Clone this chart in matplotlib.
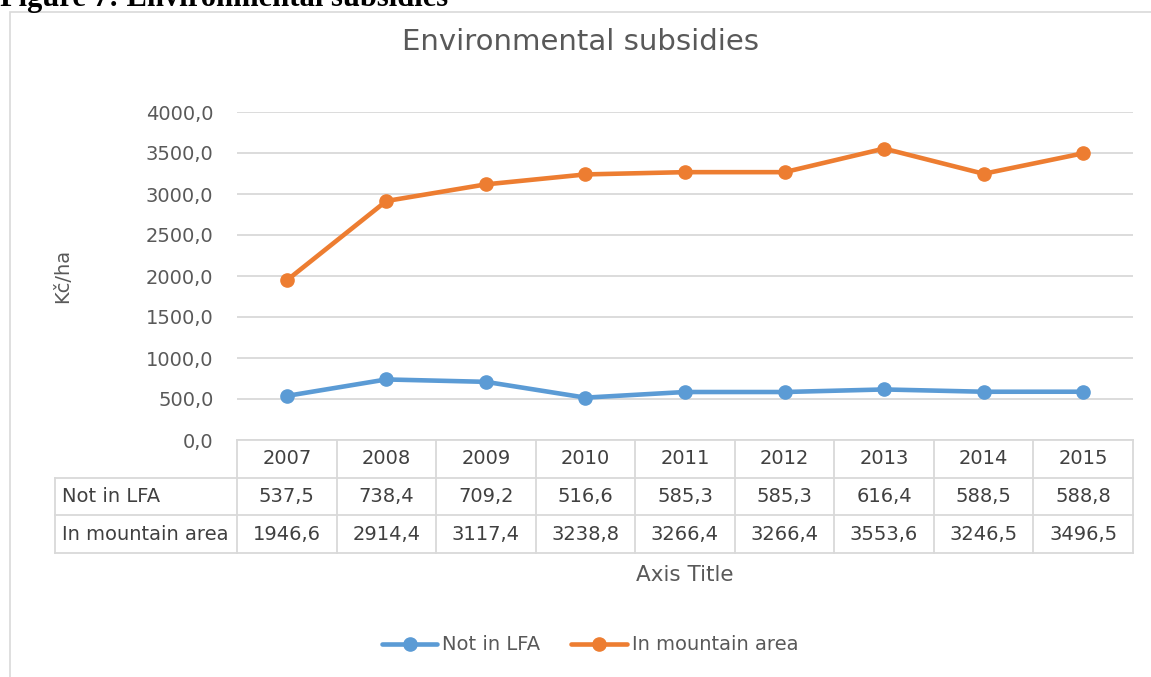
import matplotlib
matplotlib.use('Agg')
import matplotlib.pyplot as plt
from matplotlib.patches import Rectangle
from matplotlib.transforms import blended_transform_factory

plt.rcParams['font.family'] = ['DejaVu Sans']

years = ['2007', '2008', '2009', '2010', '2011', '2012', '2013', '2014', '2015']
not_lfa = [537.5, 738.4, 709.2, 516.6, 585.3, 585.3, 616.4, 588.5, 588.8]
mountain = [1946.6, 2914.4, 3117.4, 3238.8, 3266.4, 3266.4, 3553.6, 3246.5, 3496.5]
names = ['Not in LFA', 'In mountain area']
colors = ['#5B9BD5', '#ED7D31']

W, H = 1151, 677
fig = plt.figure(figsize=(W / 100, H / 100), dpi=100)

# chart frame + caption cut at the top
fig.patches.append(Rectangle((10 / W, -0.1), 1.2, 1.1 - 12 / H, transform=fig.transFigure,
                             fill=False, edgecolor='#d9d9d9', linewidth=1.2))
fig.text(0.0, 1 - 6 / H, 'Figure 7: Environmental subsidies', fontsize=22, weight='bold',
         family='Liberation Serif', va='baseline', ha='left', color='black')
fig.text(580 / W, 1 - 42 / H, 'Environmental subsidies', fontsize=21, color='#595959',
         ha='center', va='center')

ax = fig.add_axes([237 / W, 1 - 440 / H, 896 / W, 328 / H])
x = list(range(len(years)))
for vals, c, n in zip([not_lfa, mountain], colors, names):
    ax.plot(x, vals, color=c, lw=3.3, marker='o', ms=9.5, label=n, solid_capstyle='round')

ax.set_xlim(-0.5, len(years) - 0.5)
ax.set_ylim(0, 4000)
ax.set_yticks(range(0, 4001, 500))
ax.set_yticklabels([f'{v:.1f}'.replace('.', ',') for v in range(0, 4001, 500)])
ax.grid(axis='y', color='#d9d9d9', lw=1.3)
ax.set_axisbelow(True)
for s in ax.spines.values():
    s.set_visible(False)
ax.tick_params(axis='y', length=0, labelsize=14, labelcolor='#595959', pad=17)
ax.set_xticks([])
ax.set_ylabel('Kč/ha', fontsize=14, color='#595959')
ax.yaxis.set_label_coords(-165 / 896, 0.5)

# data table under the plot: x in data units, y in axes units
tr = blended_transform_factory(ax.transData, ax.transAxes)
col_w = 896 / len(years)
lab_left = -0.5 - 182 / col_w
row_h = 113 / 3 / 328
edge = dict(color='#d9d9d9', lw=1.3, transform=tr, clip_on=False)
ax.plot([-0.5, len(years) - 0.5], [0, 0], **edge)
for k in range(1, 4):
    ax.plot([lab_left, len(years) - 0.5], [-k * row_h, -k * row_h], **edge)
ax.plot([lab_left, lab_left], [-row_h, -3 * row_h], **edge)
for i in range(len(years) + 1):
    ax.plot([i - 0.5, i - 0.5], [0, -3 * row_h], **edge)

txt = dict(transform=tr, fontsize=14, color='#404040', va='center', clip_on=False)
for i, yr in enumerate(years):
    ax.text(i, -0.5 * row_h, yr, ha='center', **txt)
for r, (n, vals) in enumerate(zip(names, [not_lfa, mountain])):
    yc = -(r + 1.5) * row_h
    ax.text(lab_left + 7 / col_w, yc, n, ha='left', **txt)
    for i, v in enumerate(vals):
        ax.text(i, yc, f'{v:.1f}'.replace('.', ','), ha='center', **txt)

ax.text(0.5, -135 / 328, 'Axis Title', transform=ax.transAxes, ha='center', va='center',
        fontsize=15.5, color='#595959')

leg = fig.legend(loc='center', bbox_to_anchor=(590 / W, 1 - 645 / H), ncol=2, frameon=False,
                 fontsize=14, handlelength=2.85, handletextpad=0.25, columnspacing=1.6)
for t in leg.get_texts():
    t.set_color('#595959')

fig.savefig('out.png', dpi=100)
